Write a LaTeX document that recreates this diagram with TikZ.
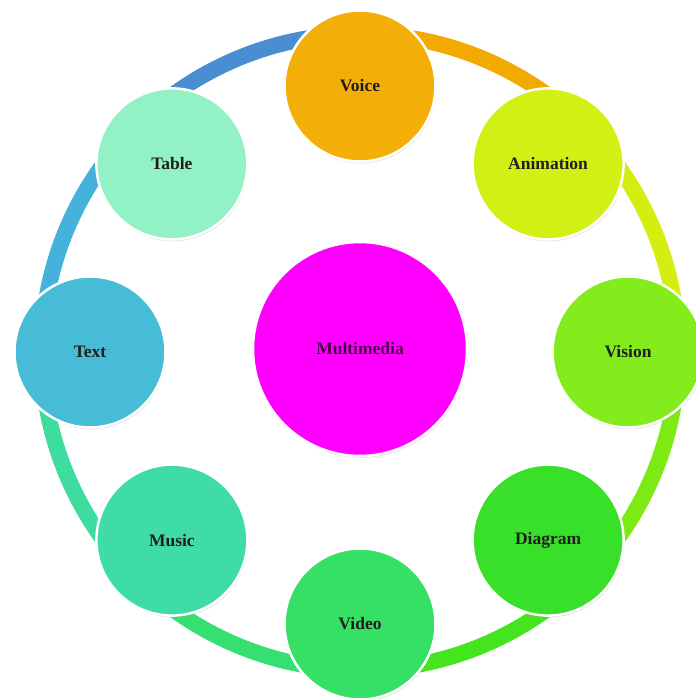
\documentclass[tikz,border=0pt]{standalone}
\usepackage{fontspec}
\setmainfont{Liberation Serif}
\usetikzlibrary{calc,shadows}
\definecolor{cVoice}{HTML}{F4AE08}
\definecolor{cAnim}{HTML}{D2F014}
\definecolor{cVision}{HTML}{84EC1C}
\definecolor{cDiagram}{HTML}{38E02A}
\definecolor{cVideo}{HTML}{36E064}
\definecolor{cMusic}{HTML}{40DCA6}
\definecolor{cText}{HTML}{46BCD6}
\definecolor{cTable}{HTML}{92F2C6}
\definecolor{cMulti}{HTML}{FF00FF}
\definecolor{rVA}{HTML}{F2AA00}
\definecolor{rAV}{HTML}{D4EE12}
\definecolor{rVD}{HTML}{7EEA14}
\definecolor{rDV}{HTML}{44E41E}
\definecolor{rVM}{HTML}{36E070}
\definecolor{rMT}{HTML}{3EDC9E}
\definecolor{rTT}{HTML}{44B2DA}
\definecolor{rTV}{HTML}{4A8ED2}
\begin{document}
\begin{tikzpicture}[x=1pt,y=1pt,
  bub/.style={circle, minimum size=151pt, inner sep=0pt, draw=white, line width=2.5pt,
    font=\fontsize{17.5}{20}\selectfont\bfseries, text=black!88,
    drop shadow={opacity=0.25, shadow xshift=0.8pt, shadow yshift=-1.8pt}},
  ringseg/.style={line width=16pt, line cap=butt}]
\useasboundingbox (0,0) rectangle (696,699);
\fill[white] (0,0) rectangle (696,699);
\coordinate (C) at (360,347);
% ring coordinates
\foreach \i/\a in {0/90,1/45,2/0,3/-45,4/-90,5/-135,6/-180,7/-225,8/-270}
  \coordinate (r\i) at ($(C)+(\a:318)$);
% ring segments
\draw[ringseg, rVA] (r0) arc[start angle=90, end angle=45, radius=318];
\draw[ringseg, rAV] (r1) arc[start angle=45, end angle=0, radius=318];
\draw[ringseg, rVD] (r2) arc[start angle=0, end angle=-45, radius=318];
\draw[ringseg, rDV] (r3) arc[start angle=-45, end angle=-90, radius=318];
\draw[ringseg, rVM] (r4) arc[start angle=-90, end angle=-135, radius=318];
\draw[ringseg, rMT] (r5) arc[start angle=-135, end angle=-180, radius=318];
\draw[ringseg, rTT] (r6) arc[start angle=-180, end angle=-225, radius=318];
\draw[ringseg, rTV] (r7) arc[start angle=-225, end angle=-270, radius=318];
% outer circles
\node[bub, fill=cVoice]   (voice)   at ($(C)+(90:266)$)   {Voice};
\node[bub, fill=cAnim]    (anim)    at ($(C)+(45:266)$)   {Animation};
\node[bub, fill=cVision]  (vision)  at ($(C)+(0:268)$)    {Vision};
\node[bub, fill=cDiagram] (diagram) at ($(C)+(-45:266)$)  {Diagram};
\node[bub, fill=cVideo]   (video)   at ($(C)+(-90:272)$)  {Video};
\node[bub, fill=cMusic]   (music)   at ($(C)+(-135:266)$) {Music};
\node[bub, fill=cText]    (text)    at ($(C)+(180:270)$)  {Text};
\node[bub, fill=cTable]   (table)   at ($(C)+(135:266)$)  {Table};
% center
\node[bub, fill=cMulti, minimum size=214pt, text=black!70!cMulti] (multi) at (360,350) {Multimedia};
\end{tikzpicture}
\end{document}
